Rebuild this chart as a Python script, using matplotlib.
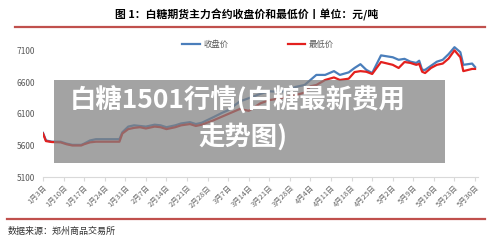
import matplotlib
matplotlib.use('Agg')
import matplotlib.pyplot as plt
from matplotlib.patches import Rectangle
from matplotlib.lines import Line2D

plt.rcParams['font.family'] = ['Noto Sans CJK SC', 'DejaVu Sans']

# 距 1月3日 的天数
days = [0, 1, 3, 6, 8, 10, 13, 14, 16, 18, 21, 26, 27, 29, 31, 33, 35, 38, 40, 42,
        45, 47, 50, 52, 54, 58, 61, 63, 67, 70, 74, 77, 81, 86, 89, 91, 93, 96, 99, 101,
        104, 106, 108, 110, 112, 115, 119, 121, 123, 125, 127, 128, 129, 130, 132, 134,
        136, 138, 140, 142, 143, 146, 147]

# 收盘价
close = [5800, 5680, 5660, 5660, 5630, 5610, 5610, 5630, 5680, 5700, 5700, 5700, 5810,
         5900, 5920, 5910, 5900, 5930, 5920, 5890, 5920, 5950, 5970, 5940, 5960, 6050,
         6120, 6160, 6300, 6350, 6420, 6460, 6450, 6530, 6560, 6640, 6720, 6720, 6780,
         6720, 6760, 6830, 6890, 6800, 6750, 7030, 7000, 6960, 6975, 6930, 6910, 6945,
         6800, 6800, 6865, 6930, 6960, 7050, 7160, 7080, 6880, 6900, 6845]

# 最低价
low = [5790, 5670, 5655, 5650, 5620, 5600, 5600, 5620, 5650, 5660, 5660, 5660, 5790,
       5860, 5880, 5890, 5870, 5900, 5890, 5860, 5890, 5920, 5940, 5910, 5930, 6000,
       6060, 6100, 6180, 6150, 6270, 6320, 6350, 6400, 6440, 6540, 6560, 6640, 6680,
       6640, 6660, 6765, 6780, 6770, 6735, 6925, 6880, 6830, 6925, 6910, 6880, 6895,
       6770, 6750, 6830, 6880, 6900, 6980, 7110, 7000, 6780, 6815, 6815]

tick_days = list(range(0, 148, 7))
tick_labels = ['1月3日', '1月10日', '1月17日', '1月24日', '1月31日', '2月7日', '2月14日',
               '2月21日', '2月28日', '3月7日', '3月14日', '3月21日', '3月28日', '4月4日',
               '4月11日', '4月18日', '4月25日', '5月2日', '5月9日', '5月16日', '5月23日',
               '5月30日']
y_ticks = [5100, 5600, 6100, 6600, 7100]

fig = plt.figure(figsize=(5, 2.43), dpi=100)
ax = fig.add_axes([0.086, 0.2716, 0.87, 0.5835])

blue = '#4a7ebb'
red = '#e3201e'
ax.plot(days, close, color=blue, linewidth=1.6, zorder=2)
ax.plot(days, low, color=red, linewidth=1.6, zorder=3)

ax.set_xlim(0, 148)
ax.set_ylim(5100, 7350)
ax.set_yticks(y_ticks)
ax.set_xticks(tick_days)
ax.set_xticklabels(tick_labels, rotation=45, ha='right', rotation_mode='anchor',
                   fontsize=5.4, color='#666666')
ax.tick_params(axis='x', direction='out', length=3, color='#d9d9d9', pad=2)
ax.tick_params(axis='y', length=0, pad=6, labelsize=6, labelcolor='#595959')
for s in ['top', 'right', 'left']:
    ax.spines[s].set_visible(False)
ax.spines['bottom'].set_color('#d9d9d9')
ax.patch.set_alpha(0)

# 图例
fig.add_artist(Line2D([182 / 500, 200 / 500], [1 - 44 / 243] * 2, color=blue, linewidth=1.6))
fig.text(204 / 500, 1 - 44 / 243, '收盘价', fontsize=6, color='#595959', va='center')
fig.add_artist(Line2D([288 / 500, 305 / 500], [1 - 44 / 243] * 2, color=red, linewidth=1.6))
fig.text(309 / 500, 1 - 44 / 243, '最低价', fontsize=6, color='#595959', va='center')

# 标题与分隔线
fig.text(0.494, 1 - 15 / 243, '图 1：白糖期货主力合约收盘价和最低价丨单位：元/吨',
         fontsize=7.8, fontweight='bold', ha='center', va='center')
fig.add_artist(Line2D([15 / 500, 485 / 500], [1 - 27 / 243] * 2, color='#c0504d', linewidth=1.6))
fig.add_artist(Line2D([7 / 500, 485 / 500], [1 - 219 / 243] * 2, color='#c0504d', linewidth=1.6))
fig.text(8 / 500, 1 - 231 / 243, '数据来源：郑州商品交易所', fontsize=6.5, color='#333333', va='center')

# 灰色遮罩文字
fig.add_artist(Rectangle((54 / 500, 1 - 163 / 243), 391 / 500, 83 / 243,
                         facecolor='#808080', alpha=0.72, edgecolor='none', zorder=5))
fig.text(238 / 500, 1 - 100 / 243, '白糖1501行情(白糖最新费用', fontsize=19, fontweight='bold',
         color='white', ha='center', va='center', zorder=6)
fig.text(243 / 500, 1 - 137 / 243, '走势图)', fontsize=19, fontweight='bold',
         color='white', ha='center', va='center', zorder=6)

fig.savefig('out.png', dpi=100)
